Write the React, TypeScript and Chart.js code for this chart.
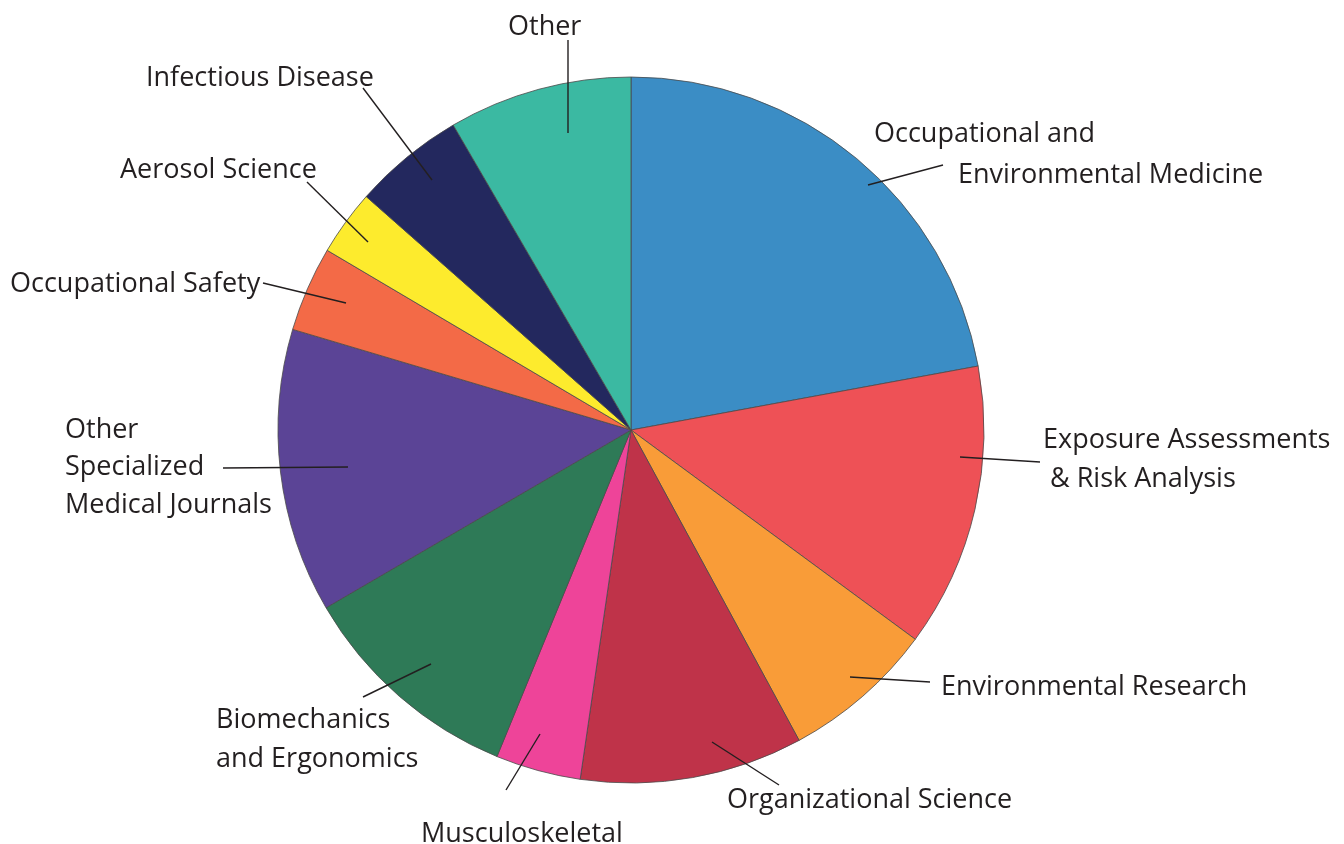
import React, { useEffect, useRef } from "react";
import { Chart, registerables } from "chart.js";

Chart.register(...registerables);

const categories = [
  "Occupational and Environmental Medicine",
  "Exposure Assessments & Risk Analysis",
  "Environmental Research",
  "Organizational Science",
  "Musculoskeletal",
  "Biomechanics and Ergonomics",
  "Other Specialized Medical Journals",
  "Occupational Safety",
  "Aerosol Science",
  "Infectious Disease",
  "Other",
];

const shares = [22.1, 13.0, 7.0, 10.2, 3.9, 10.4, 13.0, 3.9, 3.0, 5.1, 8.4];

const sliceColors = [
  "#3b8dc5",
  "#ee5156",
  "#f99c38",
  "#bf3349",
  "#ee4499",
  "#2e7a57",
  "#5b4496",
  "#f36a47",
  "#fdeb2d",
  "#23285e",
  "#3bb9a2",
];

// label text lines per slice
const labelLines: string[][] = [
  ["Occupational and", "Environmental Medicine"],
  ["Exposure Assessments", "& Risk Analysis"],
  ["Environmental Research"],
  ["Organizational Science"],
  ["Musculoskeletal"],
  ["Biomechanics", "and Ergonomics"],
  ["Other", "Specialized", "Medical Journals"],
  ["Occupational Safety"],
  ["Aerosol Science"],
  ["Infectious Disease"],
  ["Other"],
];

// annotation layout (offsets from pie centre, in px for a 353px radius)
// text: [x, baseline] per line; leader: [x1, y1, x2, y2]
const labelLayout: { text: number[][]; leader: number[] }[] = [
  { text: [[243, -288], [327, -247]], leader: [237, -245, 312, -265] },
  { text: [[412, 18], [419, 57]], leader: [329, 27, 409, 32] },
  { text: [[310, 265]], leader: [219, 247, 299, 252] },
  { text: [[96, 378]], leader: [81, 312, 148, 355] },
  { text: [[-210, 412]], leader: [-91, 304, -125, 360] },
  { text: [[-415, 298], [-415, 337]], leader: [-200, 234, -268, 267] },
  { text: [[-566, 8], [-566, 45], [-566, 83]], leader: [-408, 38, -283, 37] },
  { text: [[-621, -138]], leader: [-368, -147, -285, -127] },
  { text: [[-511, -252]], leader: [-324, -248, -263, -188] },
  { text: [[-485, -344]], leader: [-268, -342, -199, -250] },
  { text: [[-123, -395]], leader: [-63, -390, -63, -297] },
];

const labelPlugin = {
  id: "outerLabels",
  afterDraw(chart: any) {
    const meta = chart.getDatasetMeta(0);
    const arc = meta.data[0];
    if (!arc) return;
    const { x: cx, y: cy, outerRadius } = arc.getProps(["x", "y", "outerRadius"], true);
    const k = outerRadius / 353;
    const ctx = chart.ctx;
    ctx.save();
    ctx.strokeStyle = "#231f20";
    ctx.fillStyle = "#231f20";
    ctx.lineWidth = 1.4;
    ctx.font = "27px 'Open Sans'";
    ctx.textAlign = "left";
    ctx.textBaseline = "alphabetic";
    labelLayout.forEach((lay, i) => {
      const [x1, y1, x2, y2] = lay.leader;
      ctx.beginPath();
      ctx.moveTo(cx + x1 * k, cy + y1 * k);
      ctx.lineTo(cx + x2 * k, cy + y2 * k);
      ctx.stroke();
      labelLines[i].forEach((line, j) => {
        const [tx, ty] = lay.text[j];
        ctx.fillText(line, cx + tx * k, cy + ty * k);
      });
    });
    ctx.restore();
  },
};

export default function App() {
  const ref = useRef<HTMLCanvasElement | null>(null);
  useEffect(() => {
    if (!ref.current) return;
    const chart = new Chart(ref.current, {
      type: "pie",
      data: {
        labels: categories,
        datasets: [
          {
            data: shares,
            backgroundColor: sliceColors,
            borderColor: "#4a4a4a",
            borderWidth: 0.8,
          },
        ],
      },
      options: {
        responsive: false,
        animation: false,
        radius: 353,
        layout: { padding: { left: 280, right: 362, top: 78, bottom: 62 } },
        plugins: {
          legend: { display: false },
          tooltip: { enabled: false },
        },
      } as any,
      plugins: [labelPlugin],
    });
    return () => chart.destroy();
  }, []);
  return (
    <div style={{ position: "absolute", left: 0, top: 0, width: 1344, height: 844, background: "#fff" }}>
      <canvas ref={ref} width={1344} height={844} style={{ width: 1344, height: 844 }} />
    </div>
  );
}
